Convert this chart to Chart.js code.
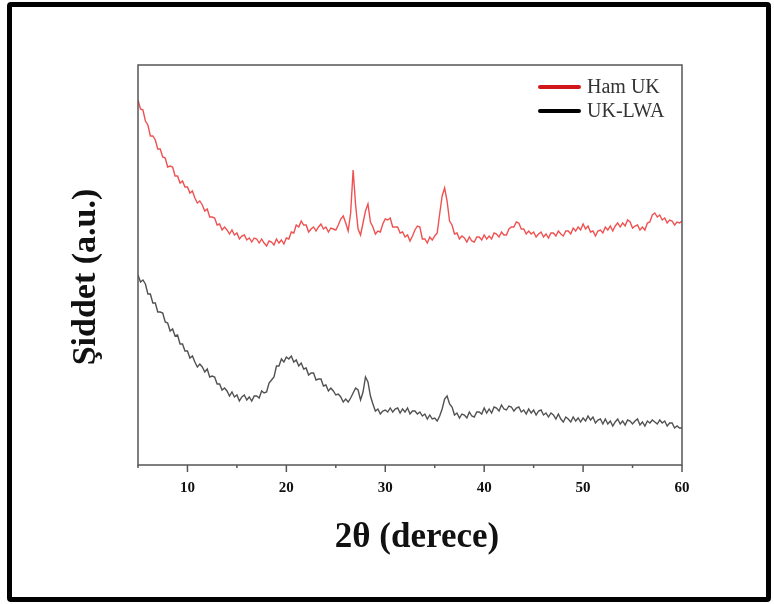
<!DOCTYPE html>
<html>
<head>
<meta charset="utf-8">
<script src="https://cdn.jsdelivr.net/npm/chart.js@4.4.1/dist/chart.umd.min.js"></script>
<style>
  html, body { margin: 0; padding: 0; background: #fff; }
  #wrap { position: relative; width: 774px; height: 604px; }
  #frame {
    position: absolute; left: 7px; top: 2px; width: 754px; height: 590px;
    border: 5px solid #000; border-radius: 4px; pointer-events: none;
  }
</style>
</head>
<body>
<div id="wrap">
  <canvas id="xrd" width="774" height="604"></canvas>
  <div id="frame"></div>
</div>
<script>
// 2θ positions (degrees)
const twoTheta = [
  5, 5.25, 5.5, 5.75, 6, 6.25, 6.5, 6.75, 7, 7.25, 7.5, 7.75, 8, 8.25, 8.5, 8.75, 9, 9.25, 9.5, 9.75,
  10, 10.25, 10.5, 10.75, 11, 11.25, 11.5, 11.75, 12, 12.25, 12.5, 12.75, 13, 13.25, 13.5, 13.75, 14, 14.25, 14.5, 14.75,
  15, 15.25, 15.5, 15.75, 16, 16.25, 16.5, 16.75, 17, 17.25, 17.5, 17.75, 18, 18.25, 18.5, 18.75, 19, 19.25, 19.5, 19.75,
  20, 20.25, 20.5, 20.75, 21, 21.25, 21.5, 21.75, 22, 22.25, 22.5, 22.75, 23, 23.25, 23.5, 23.75, 24, 24.25, 24.5, 24.75,
  25, 25.25, 25.5, 25.75, 26, 26.25, 26.5, 26.75, 27, 27.25, 27.5, 27.75, 28, 28.25, 28.5, 28.75, 29, 29.25, 29.5, 29.75,
  30, 30.25, 30.5, 30.75, 31, 31.25, 31.5, 31.75, 32, 32.25, 32.5, 32.75, 33, 33.25, 33.5, 33.75, 34, 34.25, 34.5, 34.75,
  35, 35.25, 35.5, 35.75, 36, 36.25, 36.5, 36.75, 37, 37.25, 37.5, 37.75, 38, 38.25, 38.5, 38.75, 39, 39.25, 39.5, 39.75,
  40, 40.25, 40.5, 40.75, 41, 41.25, 41.5, 41.75, 42, 42.25, 42.5, 42.75, 43, 43.25, 43.5, 43.75, 44, 44.25, 44.5, 44.75,
  45, 45.25, 45.5, 45.75, 46, 46.25, 46.5, 46.75, 47, 47.25, 47.5, 47.75, 48, 48.25, 48.5, 48.75, 49, 49.25, 49.5, 49.75,
  50, 50.25, 50.5, 50.75, 51, 51.25, 51.5, 51.75, 52, 52.25, 52.5, 52.75, 53, 53.25, 53.5, 53.75, 54, 54.25, 54.5, 54.75,
  55, 55.25, 55.5, 55.75, 56, 56.25, 56.5, 56.75, 57, 57.25, 57.5, 57.75, 58, 58.25, 58.5, 58.75, 59, 59.25, 59.5, 59.75,
  60
];

// Ham UK intensity (a.u.)
const hamUK = [
  365, 356, 355, 344, 340, 329, 329, 325, 316, 316, 308, 307, 298, 299, 298, 289, 289, 282, 284, 278,
  278, 272, 274, 267, 262, 264, 260, 254, 256, 248, 248, 247, 240, 241, 235, 238, 235, 231, 235, 230,
  232, 226, 229, 230, 225, 227, 223, 227, 226, 222, 226, 222, 219, 224, 223, 220, 226, 222, 225, 221,
  227, 226, 233, 232, 240, 238, 244, 240, 240, 233, 236, 238, 234, 238, 241, 236, 238, 233, 237, 236,
  235, 240, 246, 249, 242, 234, 252, 295, 260, 236, 230, 242, 254, 261, 243, 238, 231, 234, 233, 241,
  246, 245, 247, 238, 238, 238, 232, 233, 228, 230, 224, 229, 235, 239, 238, 226, 226, 222, 228, 225,
  229, 232, 251, 269, 277, 264, 244, 240, 231, 232, 226, 229, 227, 223, 228, 224, 223, 228, 228, 225,
  230, 226, 229, 226, 232, 231, 228, 233, 230, 230, 236, 238, 238, 243, 242, 236, 236, 231, 234, 231,
  233, 228, 231, 233, 228, 231, 227, 232, 232, 229, 234, 231, 229, 234, 234, 231, 237, 234, 238, 235,
  241, 236, 239, 233, 234, 229, 234, 235, 232, 238, 235, 239, 234, 239, 242, 238, 242, 239, 245, 243,
  237, 239, 240, 235, 238, 235, 242, 243, 250, 252, 248, 250, 245, 247, 242, 245, 244, 240, 243, 242,
  244
];

// UK-LWA intensity (a.u.)
const ukLWA = [
  190, 183, 185, 181, 171, 171, 162, 162, 153, 153, 152, 143, 142, 134, 136, 129, 130, 121, 121, 114,
  114, 107, 109, 103, 98, 101, 98, 93, 96, 88, 89, 88, 81, 81, 75, 77, 74, 69, 73, 68,
  70, 64, 68, 70, 65, 68, 64, 69, 69, 67, 74, 72, 73, 82, 85, 88, 99, 99, 106, 103,
  108, 106, 109, 103, 105, 99, 102, 96, 97, 90, 92, 92, 85, 86, 86, 79, 80, 74, 77, 74,
  70, 71, 68, 63, 66, 63, 67, 72, 77, 75, 65, 73, 88, 83, 69, 61, 54, 56, 51, 54,
  55, 53, 57, 53, 56, 57, 52, 56, 53, 57, 51, 54, 54, 51, 53, 49, 51, 46, 50, 46,
  47, 44, 49, 56, 66, 69, 61, 58, 50, 52, 47, 51, 50, 47, 53, 49, 48, 53, 53, 51,
  57, 52, 56, 52, 58, 57, 54, 60, 56, 55, 59, 58, 54, 57, 58, 53, 55, 51, 56, 52,
  55, 50, 54, 55, 50, 52, 48, 52, 50, 46, 51, 46, 43, 48, 46, 43, 48, 44, 47, 43,
  47, 44, 49, 45, 48, 42, 45, 46, 41, 46, 41, 44, 39, 43, 46, 41, 44, 40, 45, 44,
  41, 44, 46, 40, 43, 39, 44, 42, 45, 43, 41, 45, 42, 44, 39, 42, 42, 37, 39, 37,
  37
];

const seriesNames = ['Ham UK', 'UK-LWA'];
const xTitle = '2θ (derece)';
const yTitle = 'Şiddet (a.u.)';
const xTickLabels = [10, 20, 30, 40, 50, 60];

const serif = '"Liberation Serif", "Times New Roman", serif';

// frame, tick marks, legend and axis titles
const decor = {
    id: 'decor',
    afterDraw(chart) {
        const ctx = chart.ctx;
        const area = chart.chartArea;
        const xs = chart.scales.x;
        ctx.save();

        ctx.strokeStyle = '#555';
        ctx.lineWidth = 1.5;
        ctx.strokeRect(area.left, area.top, area.right - area.left, area.bottom - area.top);

        xs.ticks.forEach(t => {
            const px = xs.getPixelForValue(t.value);
            const len = t.value % 10 === 0 ? 7 : 3;
            ctx.beginPath();
            ctx.moveTo(px, area.bottom);
            ctx.lineTo(px, area.bottom + len);
            ctx.stroke();
        });

        // legend
        ctx.font = '20px ' + serif;
        ctx.textBaseline = 'middle';
        ctx.textAlign = 'left';
        chart.data.datasets.forEach((ds, i) => {
            const y = area.top + 22 + i * 24;
            ctx.strokeStyle = ds.legendColor;
            ctx.lineWidth = 4;
            ctx.lineCap = 'round';
            ctx.beginPath();
            ctx.moveTo(540, y);
            ctx.lineTo(579, y);
            ctx.stroke();
            ctx.fillStyle = '#333';
            ctx.fillText(ds.label, 587, y + 1);
        });

        // axis titles
        ctx.fillStyle = '#111';
        ctx.textAlign = 'center';
        ctx.font = 'bold 35px ' + serif;
        ctx.fillText(xTitle, 417, 538);
        ctx.font = 'bold 34px ' + serif;
        ctx.translate(86, 277);
        ctx.rotate(-Math.PI / 2);
        ctx.fillText(yTitle, 0, 0);
        ctx.restore();
    }
};

new Chart(document.getElementById('xrd').getContext('2d'), {
    type: 'line',
    data: {
        datasets: [
            {
                label: seriesNames[0],
                data: twoTheta.map((t, i) => ({ x: t, y: hamUK[i] })),
                borderColor: 'rgba(236, 50, 50, 0.85)',
                legendColor: '#d01818',
                borderWidth: 1.4,
                pointRadius: 0,
            },
            {
                label: seriesNames[1],
                data: twoTheta.map((t, i) => ({ x: t, y: ukLWA[i] })),
                borderColor: 'rgba(50, 50, 50, 0.85)',
                legendColor: '#000',
                borderWidth: 1.4,
                pointRadius: 0,
            },
        ],
    },
    options: {
        responsive: false,
        animation: false,
        layout: { padding: { left: 0, top: 65, right: 92, bottom: 0 } },
        plugins: { legend: { display: false }, tooltip: { enabled: false } },
        scales: {
            x: {
                type: 'linear',
                min: 5,
                max: 60,
                grid: { display: false, drawTicks: false },
                border: { display: false },
                ticks: {
                    stepSize: 5,
                    autoSkip: false,
                    maxRotation: 0,
                    padding: 14,
                    color: '#111',
                    font: { family: serif, size: 15, weight: 'bold' },
                    callback: v => xTickLabels.includes(v) ? String(v) : '',
                },
                afterFit: s => { s.height = 139; },
            },
            y: {
                min: 0,
                max: 400,
                grid: { display: false, drawTicks: false },
                border: { display: false },
                ticks: { display: false },
                afterFit: s => { s.width = 138; },
            },
        },
    },
    plugins: [decor],
});
</script>
</body>
</html>
